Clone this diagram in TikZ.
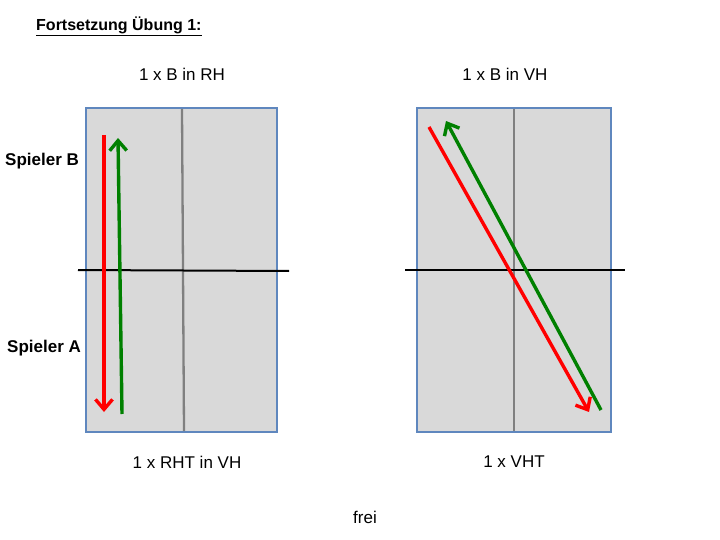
\documentclass[tikz,border=0pt]{standalone}
\usepackage{fontspec}
\setmainfont{Liberation Sans}
\usetikzlibrary{arrows.meta}
\definecolor{courtfill}{RGB}{217,217,217}
\definecolor{courtborder}{RGB}{95,135,190}
\definecolor{midgray}{RGB}{128,128,128}
\definecolor{ballred}{RGB}{255,0,0}
\definecolor{ballgreen}{RGB}{0,128,0}
\begin{document}
\begin{tikzpicture}[x=1pt,y=-1pt,
  court/.style={fill=courtfill,draw=courtborder,line width=2pt},
  centerline/.style={draw=midgray,line width=2.3pt},
  netline/.style={draw=black,line width=2pt},
  shot/.style={line width=3.4pt,-{Straight Barb[length=10pt,width=17pt,line width=3.4pt]}},
  lbl/.style={font=\fontsize{17}{20}\selectfont,inner sep=0pt},
  blbl/.style={font=\fontsize{17}{20}\selectfont\bfseries,inner sep=0pt}]
\useasboundingbox (0,0) rectangle (720,540);
% title
\node[anchor=west,inner sep=0pt,font=\fontsize{16}{19}\selectfont\bfseries] (title) at (36,26) {\underline{Fortsetzung Übung 1:}};
% left court
\draw[court] (86,108) rectangle (277,432);
\coordinate (lct) at (182,109); \coordinate (lcb) at (184,431);
\draw[centerline] (lct) -- (lcb);
\coordinate (lnl) at (78,270); \coordinate (lnr) at (289,271);
\draw[netline] (lnl) -- (lnr);
% right court
\draw[court] (417,108) rectangle (611,432);
\coordinate (rct) at (514,109); \coordinate (rcb) at (514,431);
\draw[centerline] (rct) -- (rcb);
\coordinate (rnl) at (405,270); \coordinate (rnr) at (625,270);
\draw[netline] (rnl) -- (rnr);
% shots left
\coordinate (lr1) at (104,135); \coordinate (lr2) at (104,412);
\draw[shot,ballred] (lr1) -- (lr2);
\coordinate (lg1) at (122,414); \coordinate (lg2) at (118,138);
\draw[shot,ballgreen] (lg1) -- (lg2);
% shots right
\coordinate (rr1) at (429,127); \coordinate (rr2) at (589,412);
\draw[shot,ballred] (rr1) -- (rr2);
\coordinate (rg1) at (601,410); \coordinate (rg2) at (446,121);
\draw[shot,ballgreen] (rg1) -- (rg2);
% labels
\node[lbl] (t1) at (182,74) {1 x B in RH};
\node[lbl] (t2) at (505,74) {1 x B in VH};
\node[lbl] (t3) at (187,462) {1 x RHT in VH};
\node[lbl] (t4) at (514,462) {1 x VHT};
\node[lbl] (t5) at (365,517) {frei};
\node[blbl,anchor=west] (sb) at (5,161) {Spieler B};
\node[blbl,anchor=west] (sa) at (7,348) {Spieler A};
\end{tikzpicture}
\end{document}
